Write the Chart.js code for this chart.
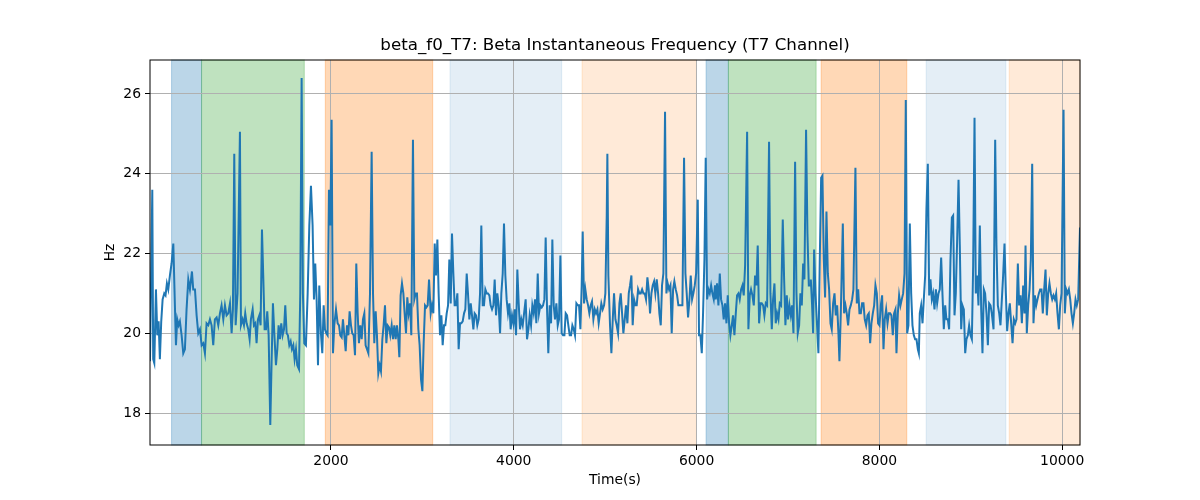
<!DOCTYPE html>
<html>
<head>
<meta charset="utf-8">
<script src="https://cdn.jsdelivr.net/npm/chart.js@4"></script>
<style>
  body { margin: 0; background: #fff; }
</style>
</head>
<body>
<canvas id="myChart" width="1200" height="500"></canvas>
<script>
const timeValues = [
  20,45,55,67,85,100,114,128,143,158,176,190,205,220,238,256,275,289,304,318,333,347,366,384,402,420,439,457,479,493,
  512,530,548,566,585,603,621,639,658,676,694,712,730,749,767,785,803,822,840,858,876,895,913,927,942,957,978,1004,
  1015,1033,1048,1062,1077,1095,1110,1124,1143,1157,1172,1186,1201,1216,1230,1245,1259,1274,1289,1303,1318,1336,1351,1365,1380,1398,
  1413,1427,1442,1456,1471,1486,1500,1515,1529,1544,1559,1573,1588,1602,1617,1631,1650,1664,1679,1693,1708,1726,1745,1763,1781,1799,
  1814,1828,1843,1858,1872,1890,1905,1920,1934,1949,1963,1978,1993,2007,2022,2036,
  2055,2073,2088,2102,2117,2131,2146,2161,2175,2190,2204,2219,2233,2248,2263,2277,2292,2306,2321,2336,2350,2365,2379,2394,2409,2427,
  2445,2460,2474,2489,2503,2518,2533,2547,2562,2576,2591,2606,2620,2635,2649,2664,2679,2693,2708,2722,2737,2748,2762,2777,2792,2806,
  2821,2835,2850,2865,2879,2897,2912,2927,2941,2956,2970,2985,3000,3014,3029,3043,3058,3073,
  3091,3105,3120,3135,3149,3164,3178,3193,3208,3222,3237,3251,3266,3281,3295,3310,3324,3339,3353,3368,3383,3397,3412,3426,3441,3456,
  3470,3485,3499,3514,3529,3543,3558,3572,3587,3601,3616,3631,3645,3660,3674,3689,3704,3718,3733,3747,3762,3777,3791,3806,3820,3835,
  3850,3864,3879,3893,3908,3922,3937,3952,3966,3981,3996,4010,4025,4039,4054,4068,4083,4098,
  4130,4145,4160,4174,4189,4203,4218,4233,4247,4262,4276,4291,4306,4320,4335,4349,4364,4378,4393,4408,4422,4437,4451,4466,4481,4495,
  4510,4524,4539,4554,4568,4583,4597,4612,4627,4641,4656,4670,4685,4700,4714,4729,4743,4754,4769,4783,4798,4813,4827,4842,4856,4871,
  4886,4900,4915,4929,4944,4958,4973,4988,5002,5017,5024,5035,5053,5068,5083,5097,5112,5126,5141,5156,
  5170,5185,5199,5214,5228,5243,5258,5272,5287,5301,5316,5331,5345,5360,5374,5389,5404,5418,5433,5447,5462,5476,5491,5506,5520,5535,
  5549,5564,5579,5593,5608,5622,5637,5655,5670,5684,5699,5714,5728,5743,5757,5772,5787,5801,5816,5830,5845,5863,5878,5892,5907,5922,
  5936,5951,5965,5980,5995,6013,6027,6042,6057,6071,6086,6100,6115,6130,6144,6159,6173,6188,6202,
  6210,6224,6239,6254,6268,6283,6297,6312,6327,6341,6356,6370,6385,6399,6414,6429,6443,6458,6472,6487,6502,6516,6531,6553,6567,6582,
  6596,6611,6626,6640,6655,6669,6684,6699,6713,6728,6742,6757,6772,6793,6808,6823,6837,6852,6866,6881,6896,6910,6925,6943,6958,6972,
  6987,7001,7016,7031,7045,7060,7078,7093,7107,7122,7136,7151,7166,7180,7198,7213,7228,7242,
  7250,7264,7275,7286,7301,7315,7333,7348,7363,7377,7392,7406,7421,7436,7450,7465,7479,7494,7509,7523,7538,7552,7563,7578,7600,7614,
  7629,7643,7658,7673,7687,7702,7716,7738,7753,7768,7782,7797,7811,7826,7840,7855,7870,7884,7899,7913,7928,7943,7957,7972,7986,8001,
  8016,8030,8045,8059,8074,8089,8103,8118,8132,8147,8161,8176,8187,8202,8216,8231,8245,8260,8275,
  8289,8304,8318,8333,8348,8362,8377,8391,8406,8421,8432,8442,8457,8472,8486,8501,8515,8530,8545,8559,8574,8588,8603,8618,8632,8647,
  8661,8676,8690,8705,8720,8734,8749,8763,8778,8793,8807,8822,8836,8851,8866,8880,8895,8909,8924,8939,8953,8968,8982,8997,9012,9026,
  9041,9055,9070,9084,9099,9114,9128,9143,9157,9172,9187,9201,9216,9230,9249,9267,
  9281,9296,9311,9325,9340,9354,9369,9384,9398,9413,9427,9442,9457,9471,9486,9500,9515,9529,9544,9559,9573,9588,9599,9613,9628,9643,
  9657,9672,9686,9701,9716,9730,9745,9759,9774,9788,9803,9818,9832,9847,9861,9876,9891,9905,9920,9934,9949,9964,9978,9993,10015,10029,
  10044,10058,10073,10088,10102,10117,10131,10146,10160,10175,10195
];
const freqValues = [
  19.3,23.6,19.35,19.25,21.1,19.95,20.3,19.35,20.3,20.85,21.0,20.95,21.25,21.1,21.45,21.75,22.25,21.0,19.7,20.35,20.2,20.3,19.95,19.5,19.6,20.6,21.35,21.1,21.55,21.1,
  21.1,20.45,20.0,20.1,19.7,19.75,19.5,20.25,20.2,20.35,20.2,19.7,20.35,20.4,20.2,20.5,20.7,20.35,20.7,20.45,20.5,20.75,20.0,20.6,24.5,20.2,21.0,25.05,
  20.2,20.35,20.2,20.5,20.25,20.1,19.85,20.35,20.6,20.2,20.25,19.75,20.35,20.45,20.2,22.6,21.45,20.1,20.1,20.55,19.95,17.7,19.35,20.75,20.0,19.2,
  19.6,20.2,19.85,20.25,19.95,20.1,20.7,20.0,19.95,19.7,19.8,19.6,19.7,19.35,19.6,19.2,19.1,21.0,26.4,21.0,19.75,19.7,21.0,22.7,23.7,22.7,
  20.85,21.75,20.85,19.2,21.2,20.0,19.5,20.7,20.1,20.0,19.95,23.6,22.7,25.35,19.5,20.2,
  20.6,20.25,20.2,19.95,19.9,20.35,19.95,19.55,20.2,19.95,20.55,20.2,20.0,19.95,19.45,21.75,20.5,19.75,20.2,19.85,20.35,20.5,19.7,19.6,19.5,21.0,
  24.55,21.0,19.75,20.55,19.95,19.0,19.2,19.05,19.85,20.2,20.7,19.75,20.2,20.15,19.95,20.2,19.85,20.2,19.85,20.2,19.85,19.4,20.95,21.25,21.0,20.5,
  20.0,20.9,20.5,20.75,19.95,24.85,20.85,21.0,21.0,20.1,19.7,18.85,18.55,19.75,20.7,20.65,20.7,21.35,
  20.5,20.7,20.5,22.25,21.45,22.35,21.0,19.95,20.45,19.7,20.2,20.2,20.5,20.7,21.85,20.75,22.5,21.5,20.7,20.7,21.0,19.6,20.25,20.25,20.3,20.5,
  20.6,21.5,21.0,20.35,20.75,20.45,20.1,20.5,20.45,20.2,20.35,21.0,22.7,20.7,20.7,21.1,21.0,21.0,20.95,20.7,20.6,20.7,21.35,20.45,21.0,20.7,
  20.0,21.0,21.5,22.75,21.45,20.85,20.5,20.75,20.1,20.45,20.25,20.6,19.95,21.6,20.75,20.1,20.35,20.2,
  20.85,19.85,20.1,20.45,20.2,20.7,20.5,20.85,20.25,21.5,20.5,20.7,20.65,20.7,20.85,22.4,20.6,19.5,20.7,20.25,22.35,20.7,20.35,20.75,20.2,20.35,
  21.95,20.0,19.95,19.95,20.5,20.45,20.2,19.95,19.95,20.2,20.1,19.95,20.75,20.7,20.7,20.1,21.2,22.55,20.75,21.1,20.85,20.7,20.5,20.7,20.8,20.35,
  20.6,20.5,20.6,20.25,20.5,20.75,20.6,20.7,21.0,22.95,24.5,21.45,20.2,19.5,20.35,21.0,20.35,20.2,20.0,20.75,
  21.0,20.5,20.0,20.35,20.7,20.25,21.0,21.2,21.45,20.2,20.85,20.7,20.7,21.1,21.0,21.0,21.1,21.0,21.0,20.85,21.4,21.1,20.5,21.0,21.2,21.3,
  21.0,21.35,21.0,20.5,20.2,21.2,21.5,25.55,21.0,21.25,21.1,21.2,20.0,21.1,21.3,21.1,20.95,20.7,20.7,20.7,20.7,24.4,21.5,21.0,20.4,20.85,
  21.45,20.85,21.0,21.2,21.5,23.35,19.95,19.95,19.5,20.5,21.85,24.4,20.85,21.1,21.0,21.2,21.0,20.85,21.2,
  20.85,21.25,20.7,21.5,20.85,20.7,20.35,20.75,20.25,20.95,20.25,19.95,20.2,20.45,19.95,20.5,20.95,21.0,20.85,21.1,21.2,20.95,21.7,25.05,20.1,20.95,
  21.1,20.95,20.7,21.45,21.2,22.2,20.25,20.75,20.75,20.7,20.45,20.75,20.7,24.8,21.0,20.1,20.85,21.25,20.25,20.5,20.35,20.75,20.7,22.85,21.35,20.2,
  20.95,20.35,20.7,20.45,20.7,20.0,24.3,21.0,20.0,20.2,21.0,20.7,21.75,21.35,25.1,22.5,21.2,21.2,
  21.35,20.7,20.0,22.1,21.0,20.35,19.5,21.85,23.9,23.95,21.85,20.9,23.05,21.5,21.1,20.25,20.1,20.75,21.0,20.45,20.7,20.0,19.3,20.5,22.75,20.5,
  20.7,20.5,20.2,20.6,20.7,20.85,21.1,24.15,20.75,21.1,20.5,20.5,20.75,20.75,20.35,20.2,20.45,20.5,19.75,20.25,20.5,20.7,21.2,21.0,20.25,20.2,
  20.7,20.95,19.6,20.35,20.6,20.25,20.5,20.5,20.45,19.95,20.5,20.6,19.5,20.5,20.95,20.7,20.85,21.0,21.5,
  25.85,20.0,20.2,22.75,21.0,20.2,19.95,19.85,19.85,19.6,19.5,20.5,20.7,20.25,20.85,21.45,23.1,24.25,20.95,21.35,20.85,21.0,20.6,21.1,20.75,21.0,
  21.1,21.9,21.0,20.1,20.7,20.35,20.35,20.1,21.85,22.9,22.95,20.45,21.0,22.35,23.85,22.2,20.1,20.7,20.6,19.5,19.85,19.95,20.2,19.95,19.85,21.7,
  25.4,21.0,21.45,20.7,22.7,20.6,19.5,21.1,21.0,20.5,19.7,20.75,20.7,20.5,20.1,24.85,
  22.2,20.7,20.5,20.2,20.85,21.45,22.25,21.0,20.05,20.5,20.75,20.25,19.75,20.35,20.25,20.35,21.75,20.7,20.95,20.25,21.2,20.5,22.2,20.0,20.7,21.1,
  21.85,24.25,20.25,20.95,20.7,20.85,21.0,21.1,21.1,20.5,21.1,21.6,20.45,21.0,21.25,21.0,20.85,20.95,20.85,21.0,20.5,20.1,20.7,21.0,25.6,20.5,
  21.1,21.0,21.1,20.85,20.5,20.25,20.5,20.85,20.7,20.85,22.65
];
const xTicks = [2000, 4000, 6000, 8000, 10000];
const yTicks = [18, 20, 22, 24, 26];
const chartTitle = 'beta_f0_T7: Beta Instantaneous Frequency (T7 Channel)';

const spanStart = [256, 584, 1938, 3302, 4747, 6104, 6348, 7363, 8512, 9420];
const spanEnd   = [584, 1708, 3113, 4524, 5998, 6348, 7308, 8300, 9384, 10195];
const spanColors = [
  'rgba(31,119,180,0.3)', 'rgba(44,160,44,0.3)', 'rgba(255,127,14,0.3)', 'rgba(31,119,180,0.12)', 'rgba(255,127,14,0.16)',
  'rgba(31,119,180,0.3)', 'rgba(44,160,44,0.3)', 'rgba(255,127,14,0.3)', 'rgba(31,119,180,0.12)', 'rgba(255,127,14,0.16)'
];

Chart.defaults.font.family = 'DejaVu Sans';
Chart.defaults.color = '#000';

// shaded spans go under the grid; spines and title (centred over the axes) on top
const spansPlugin = {
  id: 'spans',
  beforeDraw(chart) {
    const {ctx, chartArea: a, scales: {x}} = chart;
    ctx.save();
    for (let i = 0; i < spanStart.length; i++) {
      const x0 = x.getPixelForValue(spanStart[i]);
      const x1 = x.getPixelForValue(spanEnd[i]);
      ctx.fillStyle = spanColors[i];
      ctx.strokeStyle = spanColors[i];
      ctx.lineWidth = 1;
      ctx.fillRect(x0, a.top, x1 - x0, a.bottom - a.top);
      ctx.strokeRect(x0, a.top, x1 - x0, a.bottom - a.top);
    }
    ctx.restore();
  },
  afterDraw(chart) {
    const {ctx, chartArea: a} = chart;
    ctx.save();
    ctx.strokeStyle = '#000';
    ctx.lineWidth = 1;
    ctx.strokeRect(a.left, a.top, a.right - a.left, a.bottom - a.top);
    ctx.fillStyle = '#000';
    ctx.font = '16.7px "DejaVu Sans"';
    ctx.textAlign = 'center';
    ctx.textBaseline = 'middle';
    ctx.fillText(chartTitle, (a.left + a.right) / 2, a.top - 14);
    ctx.restore();
  }
};

new Chart("myChart", {
  type: "line",
  data: {
    datasets: [{
      data: timeValues.map((t, i) => ({x: t, y: freqValues[i]})),
      borderColor: "#1f77b4",
      borderWidth: 2,
      pointRadius: 0,
      tension: 0,
      fill: false
    }]
  },
  options: {
    responsive: false,
    animation: false,
    devicePixelRatio: 1,
    layout: { padding: { left: 0, right: 120, top: 60, bottom: 0 } },
    plugins: {
      legend: { display: false },
      tooltip: { enabled: false },
      title: { display: false }
    },
    scales: {
      x: {
        type: 'linear',
        min: 20,
        max: 10195,
        afterBuildTicks: s => { s.ticks = xTicks.map(v => ({value: v})); },
        afterFit: s => { s.height = 55; },
        ticks: { callback: v => String(v), font: { size: 13.9 }, color: '#000', padding: 3, maxRotation: 0 },
        grid: { color: '#b0b0b0', lineWidth: 1, tickLength: 5, tickColor: '#000' },
        border: { display: false },
        title: { display: true, text: 'Time(s)', font: { size: 13.9 }, color: '#000', padding: { top: 0, bottom: 11 } }
      },
      y: {
        min: 17.2,
        max: 26.85,
        afterBuildTicks: s => { s.ticks = yTicks.map(v => ({value: v})); },
        afterFit: s => { s.width = 150; },
        ticks: { font: { size: 13.9 }, color: '#000', padding: 4 },
        grid: { color: '#b0b0b0', lineWidth: 1, tickLength: 5, tickColor: '#000' },
        border: { display: false },
        title: { display: true, text: 'Hz', font: { size: 13.9 }, color: '#000', padding: { top: 102, bottom: 0 } }
      }
    }
  },
  plugins: [spansPlugin]
});
</script>
</body>
</html>
